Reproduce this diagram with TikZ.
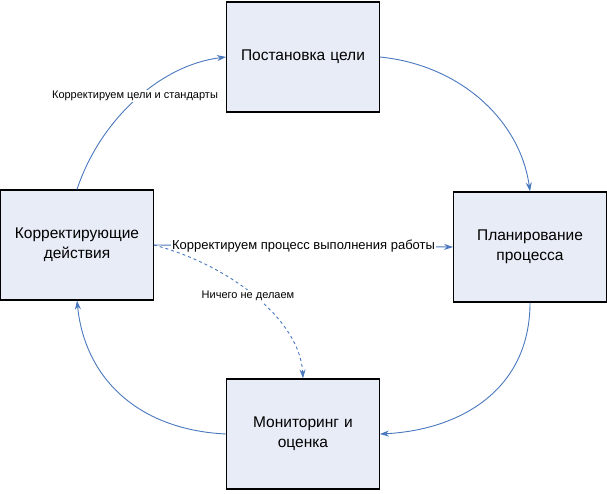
\documentclass[tikz,border=0pt]{standalone}
\usepackage{fontspec}
\setmainfont{Liberation Sans}
\usetikzlibrary{arrows.meta}
\definecolor{boxfill}{HTML}{E8ECF6}
\definecolor{arrowblue}{HTML}{4A78BE}
\begin{document}
\begin{tikzpicture}[x=1pt,y=-1pt]
  \tikzstyle{stage} = [rectangle, minimum width=150pt, minimum height=110pt, text centered, text width=146pt, draw=black, line width=1.2pt, fill=boxfill, font=\fontsize{15.5}{20}\selectfont]
  \tikzstyle{arrow} = [draw=arrowblue, line width=0.9pt, -{Stealth[length=9pt,width=6pt]}]
  \tikzstyle{note} = [font=\fontsize{11}{13}\selectfont, fill=white, inner sep=1pt]

  \useasboundingbox (0,0) rectangle (607,494);

  \node (goal) [stage] at (303,57) {Постановка цели};
  \node (plan) [stage] at (530,247) {Планирование\\процесса};
  \node (monitor) [stage] at (303,434) {Мониторинг и\\оценка};
  \node (fix) [stage] at (77,245) {Корректирующие\\действия};

  \draw [arrow] (fix.north) .. controls (100,120) and (160,65) .. (goal.west);
  \draw [arrow] (goal.east) .. controls (460,65) and (520,120) .. (plan.north);
  \draw [arrow] (plan.south) .. controls (530,390) and (460,430) .. (monitor.east);
  \draw [arrow] (monitor.west) .. controls (140,430) and (85,380) .. (fix.south);
  \draw [arrow] (fix.east) -- node [note, font=\fontsize{13}{15}\selectfont] {Корректируем процесс выполнения работы} (plan.west);
  \draw [arrow, dashed] (fix.east) .. controls (230,265) and (300,320) .. (monitor.north);

  \node [note] at (135,96) {Корректируем цели и стандарты};
  \node [note] at (248,296) {Ничего не делаем};
\end{tikzpicture}
\end{document}
